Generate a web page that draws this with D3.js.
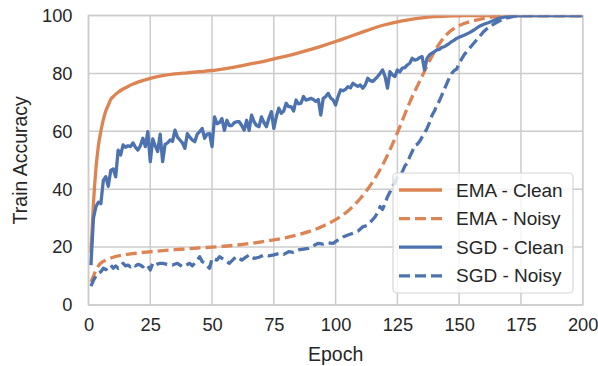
<!DOCTYPE html>
<html>
<head>
<meta charset="utf-8">
<script src="https://cdn.jsdelivr.net/npm/d3@7"></script>
<style>
  body { margin: 0; background: #fff; }
  text { font-family: "Liberation Sans", Arial, sans-serif; fill: #262626; }
</style>
</head>
<body>
<script>
var width = 598,
    height = 366,
    margin = {top: 15.5, right: 15.3, bottom: 61, left: 88.5};

// epochs / values
var emaCleanEpochs = [1, 2, 3, 4, 5, 6, 7, 8, 9, 10, 12, 14, 16, 18, 20, 25, 30, 35, 40, 45, 50, 55, 60, 65, 70, 75, 80, 85, 90, 95, 100, 105, 110, 115, 120, 125, 130, 135, 140, 145, 150, 155, 160, 170, 180, 190, 200];
var emaClean = [18, 35, 47, 55, 60, 64, 67, 69, 71, 72, 73.5, 74.6, 75.5, 76.3, 77, 78.3, 79.2, 79.8, 80.2, 80.6, 81, 81.6, 82.3, 83.2, 84, 85, 86, 87.1, 88.3, 89.6, 91, 92.5, 94, 95.5, 96.8, 97.8, 98.6, 99.2, 99.6, 99.8, 99.9, 100, 100, 100, 100, 100, 100];

var emaNoisyEpochs = [1, 2, 3, 4, 5, 7, 10, 15, 20, 25, 30, 35, 40, 45, 50, 55, 60, 65, 70, 75, 80, 85, 90, 95, 100, 105, 110, 115, 120, 125, 130, 135, 140, 145, 150, 155, 160, 165, 170, 180, 190, 200];
var emaNoisy = [8, 10, 12, 13.5, 14.5, 15.5, 16.5, 17.4, 18, 18.4, 18.8, 19.1, 19.4, 19.7, 20, 20.3, 20.7, 21.2, 21.8, 22.5, 23.3, 24.3, 25.6, 27.3, 29.5, 32.5, 36.8, 42.5, 50, 59.5, 70, 79, 87.5, 93.5, 96.5, 98, 99, 99.7, 100, 100, 100, 100];

var sgdCleanEpochs = [1, 2, 3, 4, 5, 6, 7, 8, 9, 10, 11, 12, 13, 14, 15, 16, 17, 18, 19, 20, 21, 22, 23, 24, 25, 26, 27, 28, 29, 30, 31, 32, 33, 34, 35, 36, 37, 38, 39, 40, 41, 42, 43, 44, 45, 46, 47, 48, 49, 50, 51, 52, 53, 54, 55, 56, 57, 58, 59, 60, 61, 62, 63, 64, 65, 66, 67, 68, 69, 70, 71, 72, 73, 74, 75, 76, 77, 78, 79, 80, 81, 82, 83, 84, 85, 86, 87, 88, 89, 90, 91, 92, 93, 94, 95, 96, 97, 98, 99, 100, 101, 102, 103, 104, 105, 106, 107, 108, 109, 110, 111, 112, 113, 114, 115, 116, 117, 118, 119, 120, 121, 122, 123, 124, 125, 126, 127, 128, 129, 130, 131, 132, 133, 134, 135, 136, 137, 138, 139, 140, 141, 142, 143, 144, 145, 146, 147, 148, 149, 150, 152, 154, 156, 158, 160, 162, 164, 166, 168, 170, 173, 176, 200];
var sgdClean = [13.8, 30, 34, 35.5, 35, 43, 44.3, 41, 46.5, 47, 44.3, 53.5, 51.8, 55.3, 54.5, 55, 54.7, 56, 54.5, 53.5, 55, 57.6, 54.7, 59.9, 49.5, 57.4, 55, 53, 59, 49.5, 55.5, 56, 57, 56.5, 60.4, 58, 57, 56, 54.1, 59.2, 58, 57, 56.4, 59, 59.9, 61, 57.6, 59, 59.2, 54.7, 65, 62.6, 63, 64.4, 60.3, 63.8, 62, 62, 63, 63.3, 63.3, 62, 60.4, 63.8, 60.3, 65.6, 63.3, 62, 61.6, 65, 63, 61.6, 64.5, 66.8, 61, 65, 68, 66.2, 67, 69.7, 68.5, 68.5, 67, 70.8, 69.5, 69.7, 72, 70.8, 71, 71.4, 71, 70.3, 71, 65.6, 71.4, 72, 73.1, 71.5, 70.8, 69.1, 72, 74.3, 74, 74.5, 75.4, 75, 76.6, 76, 75.5, 76, 74.9, 76, 78.3, 77.5, 77.2, 78, 78.9, 80, 81.2, 79, 74.9, 80.6, 79.5, 78.9, 81.2, 80.5, 81.8, 82, 82.9, 83.5, 85.2, 84.6, 84.8, 85.5, 85.8, 81.2, 85.2, 86.4, 87, 87.5, 88.1, 88.3, 89, 89.2, 89.8, 90.3, 91, 91.5, 92.1, 92.5, 93.2, 94, 95, 96.2, 97, 97.6, 98.3, 99, 99.4, 99.7, 99.9, 100, 100];

var sgdNoisyEpochs = [1, 2, 3, 4, 5, 6, 7, 8, 9, 10, 11, 12, 13, 14, 15, 16, 17, 18, 19, 20, 21, 22, 23, 24, 25, 26, 27, 28, 29, 30, 32, 34, 36, 38, 40, 41, 42, 44, 45, 46, 47, 48, 49, 50, 52, 53, 55, 57, 59, 60, 62, 63, 65, 67, 69, 71, 73, 75, 77, 79, 81, 83, 85, 87, 89, 91, 93, 95, 97, 99, 101, 103, 105, 107, 109, 111, 113, 115, 116, 117, 118, 119, 120, 121, 122, 123, 124, 125, 126, 127, 128, 129, 130, 131, 132, 133, 134, 135, 136, 137, 138, 139, 140, 141, 142, 143, 144, 145, 146, 147, 148, 149, 150, 152, 154, 156, 158, 160, 162, 164, 166, 168, 170, 172, 175, 200];
var sgdNoisy = [6.5, 8.5, 10, 10.9, 11.5, 12.7, 12.2, 13, 13.8, 12.7, 13.5, 12.7, 13.5, 14.4, 13.5, 13.8, 13.2, 14, 13.5, 14, 13.8, 13.2, 14, 13.5, 12.1, 14.4, 13.8, 14.2, 14.4, 14.4, 14, 13.8, 14.4, 13.2, 14, 14.4, 13.5, 15.5, 16.7, 15, 14.5, 13.5, 12.7, 16.1, 15.5, 16.7, 15.5, 14.4, 16.1, 16.7, 15.5, 16.1, 17.3, 16.1, 16.5, 17.3, 17, 17.3, 17.8, 17.5, 18.4, 18.2, 19, 19.3, 19.6, 20.5, 21.3, 21, 21.5, 21.3, 22.5, 23.5, 24.2, 24.8, 25.5, 27, 27.6, 29.5, 30.5, 32, 34, 33, 35, 37.4, 39, 41, 42, 44.3, 45, 46, 48, 49, 51.2, 53, 55, 55.5, 56.5, 58, 59.4, 61, 63, 65.5, 67, 69, 70.5, 72.5, 74.5, 76.5, 78.5, 80, 81, 81.5, 83.5, 86.4, 88.5, 90.5, 92.5, 94.5, 96, 97, 98, 98.8, 99.3, 99.7, 100, 100];

var xTicks = [0, 25, 50, 75, 100, 125, 150, 175, 200];
var yTicks = [0, 20, 40, 60, 80, 100];

var seriesNames = ["EMA - Clean", "EMA - Noisy", "SGD - Clean", "SGD - Noisy"];
var seriesColors = ["#dd8452", "#dd8452", "#4c72b0", "#4c72b0"];
var seriesDash = [null, "11,5", null, "11,5"];

var series = [
  {epochs: emaCleanEpochs, values: emaClean, smooth: true},
  {epochs: emaNoisyEpochs, values: emaNoisy, smooth: true},
  {epochs: sgdCleanEpochs, values: sgdClean, smooth: false},
  {epochs: sgdNoisyEpochs, values: sgdNoisy, smooth: false}
];

var x = d3.scaleLinear().domain([0, 200]).range([margin.left, width - margin.right]);
var y = d3.scaleLinear().domain([0, 100]).range([height - margin.bottom, margin.top]);

var svg = d3.select("body").append("svg")
    .attr("width", width)
    .attr("height", height);

svg.append("clipPath").attr("id", "plotclip")
  .append("rect")
    .attr("x", x(0)).attr("y", y(100))
    .attr("width", x(200) - x(0)).attr("height", y(0) - y(100));

// grid
var grid = svg.append("g").attr("stroke", "#cccccc").attr("stroke-width", 1.5);
grid.selectAll(".vx").data(xTicks).enter().append("line")
    .attr("x1", function(d) { return x(d); }).attr("x2", function(d) { return x(d); })
    .attr("y1", y(0)).attr("y2", y(100));
grid.selectAll(".hy").data(yTicks).enter().append("line")
    .attr("x1", x(0)).attr("x2", x(200))
    .attr("y1", function(d) { return y(d); }).attr("y2", function(d) { return y(d); });

// axes (labels only, seaborn whitegrid has no tick marks)
var xAxis = svg.append("g")
    .attr("transform", "translate(0," + y(0) + ")")
    .call(d3.axisBottom(x).tickValues(xTicks).tickSize(0).tickPadding(13));
var yAxis = svg.append("g")
    .attr("transform", "translate(" + x(0) + ",0)")
    .call(d3.axisLeft(y).tickValues(yTicks).tickSize(0).tickPadding(16));
[xAxis, yAxis].forEach(function(a) {
  a.select(".domain").remove();
  a.selectAll("text")
    .style("font-family", '"Liberation Sans", Arial, sans-serif')
    .style("font-size", "18.3px")
    .attr("fill", "#262626");
});

// frame
svg.append("rect")
    .attr("x", x(0)).attr("y", y(100))
    .attr("width", x(200) - x(0)).attr("height", y(0) - y(100))
    .attr("fill", "none").attr("stroke", "#cccccc").attr("stroke-width", 1.5);

// lines
var plot = svg.append("g").attr("clip-path", "url(#plotclip)");
series.forEach(function(s, i) {
  var pts = s.epochs.map(function(e, j) { return [e, s.values[j]]; });
  var line = d3.line()
      .x(function(d) { return x(d[0]); })
      .y(function(d) { return y(d[1]); })
      .curve(s.smooth ? d3.curveMonotoneX : d3.curveLinear);
  plot.append("path")
      .datum(pts)
      .attr("d", line)
      .attr("fill", "none")
      .attr("stroke", seriesColors[i])
      .attr("stroke-width", 3.3)
      .attr("stroke-linejoin", "round")
      .attr("stroke-dasharray", seriesDash[i]);
});

// axis labels
svg.append("text")
    .attr("x", (x(0) + x(200)) / 2)
    .attr("y", 361)
    .attr("text-anchor", "middle")
    .style("font-size", "19.5px")
    .text("Epoch");
svg.append("text")
    .attr("transform", "translate(27," + ((y(0) + y(100)) / 2) + ") rotate(-90)")
    .attr("text-anchor", "middle")
    .style("font-size", "19.5px")
    .text("Train Accuracy");

// legend
var legend = svg.append("g");
legend.append("rect")
    .attr("x", 393).attr("y", 173)
    .attr("width", 180).attr("height", 120)
    .attr("rx", 4)
    .attr("fill", "#ffffff").attr("fill-opacity", 0.8)
    .attr("stroke", "#d6d6d6").attr("stroke-width", 1.2);
var rows = legend.selectAll(".row").data(seriesNames).enter().append("g")
    .attr("transform", function(d, i) { return "translate(0," + (190 + i * 28.6) + ")"; });
rows.append("line")
    .attr("x1", 399).attr("x2", 442)
    .attr("stroke", function(d, i) { return seriesColors[i]; })
    .attr("stroke-width", 3.3)
    .attr("stroke-dasharray", function(d, i) { return seriesDash[i]; });
rows.append("text")
    .attr("x", 456).attr("dy", "0.35em")
    .style("font-size", "19px")
    .text(function(d) { return d; });
</script>
</body>
</html>
